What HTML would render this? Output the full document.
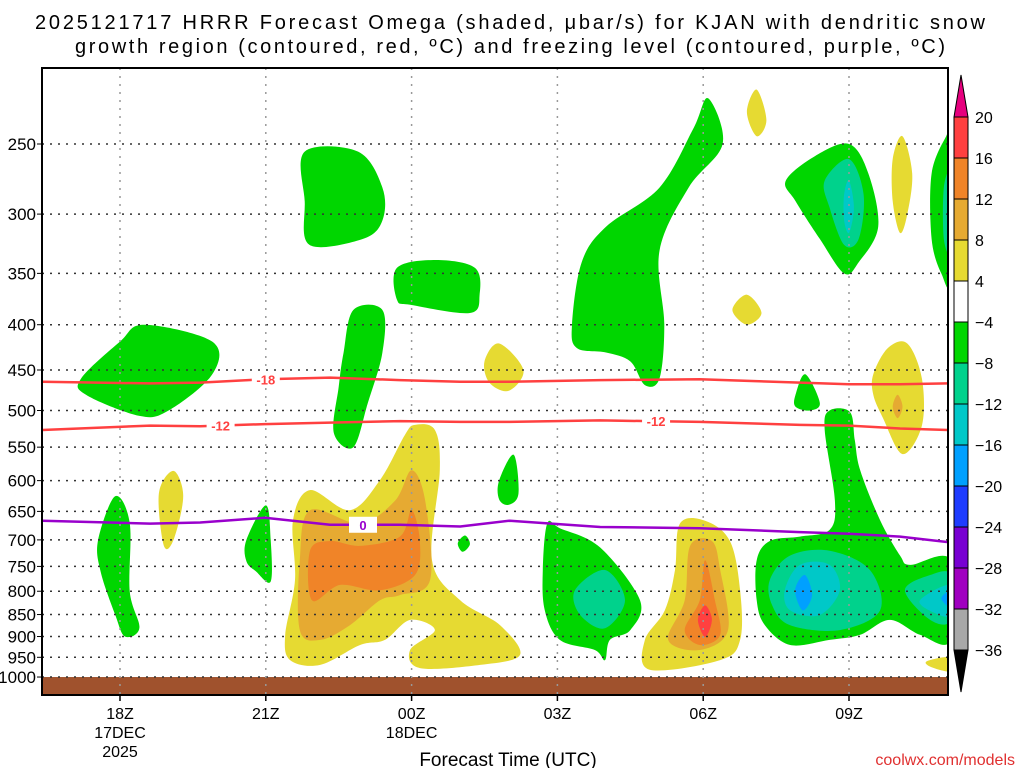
<!DOCTYPE html>
<html><head><meta charset="utf-8"><style>
body{margin:0;background:#fff;width:1024px;height:768px;overflow:hidden}
svg{font-family:"Liberation Sans",sans-serif}
</style></head><body>
<svg id="chart" width="1024" height="768" viewBox="0 0 1024 768">
<text x="510" y="29" text-anchor="middle" font-size="20" textLength="950">2025121717 HRRR Forecast Omega (shaded, μbar/s) for KJAN with dendritic snow</text>
<text x="510" y="53" text-anchor="middle" font-size="20" textLength="870">growth region (contoured, red, ºC) and freezing level (contoured, purple, ºC)</text>
<g id="plot"></g>
<g id="axes"></g>
<g id="cbar"></g>
<text x="508" y="766" text-anchor="middle" font-size="19">Forecast Time (UTC)</text>
<text x="1015" y="765" text-anchor="end" font-size="16" fill="#e03030">coolwx.com/models</text>
</svg>
<script>
const xTickHours=[0,3,6,9,12,15];
const xTickLabels=[["18Z","17DEC","2025"],["21Z"],["00Z","18DEC"],["03Z"],["06Z"],["09Z"]];
const yTicks=[250,300,350,400,450,500,550,600,650,700,750,800,850,900,950,1000];
const cbLevels=[20,16,12,8,4,-4,-8,-12,-16,-20,-24,-28,-32,-36];
const cbColors=["#ff4040","#f08428","#e6aa32","#e6da32","#ffffff","#00d600","#00d28c","#00c8c8","#00a0ff","#1e3cff","#7800d2","#a000c0","#a8a8a8"];
const contourHours=[-1.6,0.62,1.65,2.98,4.32,5.76,7.0,8.02,9.88,11.93,13.99,15.0,16.05,17.04];
const tempM18=[464,466,465,461,459,462,464,464,462,461,465,467,467,466];
const tempM12=[526,520,521,518,516,514,515,515,513,515,519,520,524,526];
const freezing=[666,671,669,661,673,673,676,666,677,679,686,689,694,704];
// shaded blobs: [fillColor, [[hour, hPa],...]]
const blobs=[
["#00d600",[[-0.8,460],[0,418],[0.5,400],[1.9,418],[1.9,455],[1,500],[0.4,507],[-0.7,480]]],
["#00d600",[[3.8,255],[4.9,255],[5.4,280],[5.4,305],[5,320],[3.9,325],[3.8,290]]],
["#00d600",[[4.8,385],[5.4,385],[5.4,430],[5.1,490],[4.8,550],[4.4,530],[4.5,470],[4.6,430]]],
["#00d600",[[5.7,345],[6.5,338],[7.3,345],[7.4,370],[7.2,388],[6,380],[5.7,375]]],
["#e6da32",[[7.5,440],[7.8,420],[8.3,450],[8.0,475],[7.6,465]]],
["#00d600",[[9.3,400],[9.5,340],[10,310],[11.1,280],[11.8,240],[12.1,222],[12.4,250],[11.7,280],[11.1,330],[11.2,400],[11.1,460],[10.8,468],[10.5,440],[10,430],[9.4,425]]],
["#e6da32",[[12.9,230],[13.1,217],[13.3,235],[13.1,245]]],
["#e6da32",[[12.6,385],[12.9,370],[13.2,388],[12.9,400]]],
["#00d600",[[13.7,275],[14.3,258],[15.0,250],[15.4,270],[15.6,310],[15.2,340],[14.9,350],[14.4,320],[13.9,290]]],
["#00d28c",[[14.5,275],[15.0,260],[15.3,285],[15.2,320],[14.9,325],[14.6,295]]],
["#00c8c8",[[14.9,285],[15.0,275],[15.1,295],[15.0,315],[14.9,305]]],
["#e6da32",[[15.9,260],[16.1,245],[16.3,270],[16.2,300],[16.05,315],[15.9,290]]],
["#00d600",[[16.7,270],[17.0,245],[17.1,245],[17.1,355],[16.9,350],[16.7,320]]],
["#00d28c",[[16.95,280],[17.1,270],[17.1,330],[16.95,320]]],
["#e6da32",[[15.5,455],[15.8,425],[16.2,420],[16.5,460],[16.5,520],[16.1,560],[15.7,510],[15.5,480]]],
["#e6aa32",[[16.0,480],[16.1,495],[16.0,510],[15.9,495]]],
["#00d600",[[13.9,480],[14.1,455],[14.4,490],[14.2,500],[13.9,495]]],
["#e6da32",[[0.8,620],[1.1,585],[1.3,625],[1.1,700],[0.9,710]]],
["#00d600",[[-0.45,700],[-0.1,625],[0.2,670],[0.2,800],[0.4,880],[0.1,900],[-0.1,850],[-0.4,760]]],
["#00d600",[[2.6,700],[3.0,640],[3.1,700],[3.1,780],[2.8,760],[2.6,740]]],
["#e6da32",[[3.56,665],[3.91,615],[4.73,648],[5.35,599],[5.86,533],[6.07,519],[6.48,526],[6.58,584],[6.42,738],[7.0,819],[7.82,874],[8.23,944],[7.41,969],[6.17,977],[5.97,932],[6.48,885],[5.97,862],[5.45,908],[4.94,920],[4.12,969],[3.5,957],[3.4,896],[3.6,777]]],
["#e6aa32",[[3.7,738],[3.91,648],[4.94,671],[5.66,632],[6.0,584],[6.28,632],[6.38,777],[5.76,808],[5.35,819],[4.73,874],[4.12,908],[3.7,885]]],
["#f08428",[[3.91,720],[4.32,702],[4.94,711],[5.76,694],[6.0,648],[6.17,702],[6.07,767],[5.35,798],[4.53,787],[3.95,819]]],
["#00d600",[[6.95,706],[7.1,692],[7.2,708],[7.05,722]]],
["#00d600",[[7.8,600],[8.1,561],[8.2,620],[8.0,639],[7.8,630]]],
["#00d600",[[8.79,671],[9.05,679],[9.88,714],[10.7,819],[10.5,885],[10.08,908],[9.98,957],[9.77,932],[9.05,908],[8.74,841],[8.7,757]]],
["#00d28c",[[9.36,798],[9.98,757],[10.39,819],[9.98,881],[9.47,851]]],
["#e6da32",[[11.52,671],[12.04,666],[12.55,702],[12.76,798],[12.76,908],[12.35,957],[10.9,981],[10.8,908],[11.21,841],[11.42,757]]],
["#e6aa32",[[11.73,711],[12.18,702],[12.35,757],[12.51,885],[11.93,932],[11.28,908],[11.62,819]]],
["#f08428",[[12.04,738],[12.24,819],[12.35,896],[11.93,920],[11.62,885],[11.93,819]]],
["#ff4040",[[12.04,830],[12.18,862],[12.04,901],[11.89,862]]],
["#00d600",[[13.1,738],[13.37,702],[13.99,694],[14.6,682],[14.71,632],[14.5,526],[14.6,500],[15.02,502],[15.12,540],[15.23,584],[15.64,665],[16.05,729],[16.26,747],[17.1,738],[17.1,908],[16.46,896],[15.84,862],[15.23,896],[14.6,908],[13.79,920],[13.27,874],[13.1,819]]],
["#00d28c",[[13.37,777],[13.79,729],[14.6,720],[15.43,757],[15.64,841],[14.81,885],[13.79,874],[13.42,830]]],
["#00c8c8",[[13.68,798],[13.99,747],[14.6,747],[14.81,798],[14.4,851],[13.79,841]]],
["#00a0ff",[[13.89,798],[14.09,767],[14.24,808],[14.05,841]]],
["#00d28c",[[16.15,798],[16.67,767],[17.1,767],[17.1,862],[16.67,862]]],
["#00c8c8",[[16.46,819],[17.1,787],[17.1,851],[16.73,845]]],
["#00a0ff",[[16.9,815],[17.1,800],[17.1,835]]],
["#e6da32",[[16.6,960],[17.1,950],[17.1,985],[16.7,975]]]
];
const NS="http://www.w3.org/2000/svg";
const L=42,R=948,T=68,B=695;
const xs=h=>120+h*48.6;
const ys=p=>144+384.5*Math.log(p/250);
function mk(tag,attrs,parent){const e=document.createElementNS(NS,tag);for(const k in attrs)e.setAttribute(k,attrs[k]);parent.appendChild(e);return e;}
function smoothClosed(P){
  const n=P.length;let d='M'+P[0][0].toFixed(1)+','+P[0][1].toFixed(1);
  for(let i=0;i<n;i++){
    const p0=P[(i-1+n)%n],p1=P[i],p2=P[(i+1)%n],p3=P[(i+2)%n];
    const c1=[p1[0]+(p2[0]-p0[0])/6,p1[1]+(p2[1]-p0[1])/6];
    const c2=[p2[0]-(p3[0]-p1[0])/6,p2[1]-(p3[1]-p1[1])/6];
    d+=' C'+c1[0].toFixed(1)+','+c1[1].toFixed(1)+' '+c2[0].toFixed(1)+','+c2[1].toFixed(1)+' '+p2[0].toFixed(1)+','+p2[1].toFixed(1);
  }
  return d+'Z';
}
const plot=document.getElementById('plot'),axes=document.getElementById('axes'),cbar=document.getElementById('cbar');
const defs=mk('defs',{},plot);const cp=mk('clipPath',{id:'clip'},defs);mk('rect',{x:L,y:T,width:R-L,height:B-T},cp);
const g=mk('g',{'clip-path':'url(#clip)'},plot);
blobs.forEach((b,i)=>{
  const P=b[1].map(q=>[xs(q[0]),ys(q[1])]);
  const el=mk('path',{d:smoothClosed(P),fill:b[0]},g);
  
  
});
const gr=mk('rect',{x:L,y:ys(1000),width:R-L,height:B-ys(1000),fill:'#a0522d'},g);


yTicks.forEach(p=>{
  const ln=mk('line',{x1:L,x2:R,y1:ys(p),y2:ys(p),stroke:'#333','stroke-dasharray':'2 6','stroke-width':1.5},g);
  
  
  const t=mk('text',{x:36,y:ys(p)+6,'text-anchor':'end','font-size':17},axes);t.textContent=p;
  
  
  mk('line',{x1:L-5,x2:L,y1:ys(p),y2:ys(p),stroke:'#000'},axes);
});
xTickHours.forEach((h,i)=>{
  const ln=mk('line',{x1:xs(h),x2:xs(h),y1:T,y2:B,stroke:'#999','stroke-dasharray':'2 6','stroke-width':1.5},g);
  
  
  mk('line',{x1:xs(h),x2:xs(h),y1:B,y2:B+6,stroke:'#000','stroke-width':1.5},axes);
  xTickLabels[i].forEach((s,j)=>{
    const t=mk('text',{x:xs(h),y:719+j*19,'text-anchor':'middle','font-size':16},axes);t.textContent=s;
    
    
  });
});
function line(arr,col,name){
  const d=contourHours.map((h,i)=>(i?'L':'M')+xs(h).toFixed(1)+','+ys(arr[i]).toFixed(1)).join(' ');
  const p=mk('path',{d:d,fill:'none',stroke:col,'stroke-width':2.5,'stroke-linejoin':'round'},g);
  
  
}
line(tempM18,'#ff4040','contour-minus18');
line(tempM12,'#ff4040','contour-minus12');
line(freezing,'#9900cc','freezing-level');
function clabel(h,arr,txt,col){
  const x=xs(h);const i=contourHours.findIndex(v=>v>h);const t0=contourHours[i-1],t1=contourHours[i];
  const p=arr[i-1]+(arr[i]-arr[i-1])*(h-t0)/(t1-t0);const y=ys(p);
  mk('rect',{x:x-14,y:y-8,width:28,height:16,fill:'#fff'},g);
  const t=mk('text',{x:x,y:y+5,'text-anchor':'middle','font-size':13,'font-weight':'bold',fill:col},g);t.textContent=txt;
  
  
}
clabel(3.0,tempM18,'-18','#ff4040');
clabel(2.07,tempM12,'-12','#ff4040');
clabel(11.03,tempM12,'-12','#ff4040');
clabel(5.0,freezing,'0','#9900cc');
mk('rect',{x:L,y:T,width:R-L,height:B-T,fill:'none',stroke:'#000','stroke-width':2},axes);
const cx=954,cw=14,ct=117,step=(650-117)/13;
mk('polygon',{points:`${cx},${ct} ${cx+cw/2},${ct-42} ${cx+cw},${ct}`,fill:'#e6007e',stroke:'#000'},cbar);
mk('polygon',{points:`${cx},650 ${cx+cw/2},692 ${cx+cw},650`,fill:'#000',stroke:'#000'},cbar);
cbColors.forEach((c,i)=>{
  const r=mk('rect',{x:cx,y:ct+i*step,width:cw,height:step,fill:c,stroke:'#000'},cbar);
  
  
});
cbLevels.forEach((v,i)=>{
  const t=mk('text',{x:975,y:ct+i*step+6,'font-size':16},cbar);t.textContent=v<0?'\u2212'+(-v):v;
  
  
});
</script>
</body></html>
